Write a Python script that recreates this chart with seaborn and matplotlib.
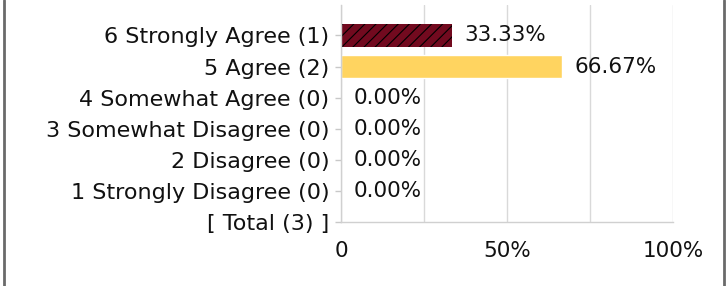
import matplotlib
matplotlib.use('Agg')
import matplotlib.pyplot as plt
import seaborn as sns
from matplotlib.lines import Line2D
from matplotlib.ticker import MultipleLocator

categories = ['6 Strongly Agree (1)', '5 Agree (2)', '4 Somewhat Agree (0)',
              '3 Somewhat Disagree (0)', '2 Disagree (0)', '1 Strongly Disagree (0)',
              '[ Total (3) ]']
answers = categories[:6]
percents = [33.33, 66.67, 0.0, 0.0, 0.0, 0.0]
value_labels = ['33.33%', '66.67%', '0.00%', '0.00%', '0.00%', '0.00%']
bar_colors = ['#720a1f', '#ffd460', '#ffd460', '#ffd460', '#ffd460', '#ffd460']
x_ticks = [0, 50, 100]
x_ticklabels = ['0', '50%', '100%']

sns.set_style('white')
plt.rcParams['font.family'] = ['DejaVu Sans']
plt.rcParams['hatch.linewidth'] = 0.8

fig = plt.figure(figsize=(7.26, 2.86), dpi=100)
ax = fig.add_axes([341 / 726, 1 - 222 / 286, 332 / 726, 217 / 286])

sns.barplot(x=percents, y=answers, order=categories, hue=answers,
            palette=bar_colors, saturation=1, legend=False, width=0.75, ax=ax)

# hatched first bar
first = ax.patches[0]
first.set_hatch('///')
first.set_edgecolor('#000000')
first.set_linewidth(0)

for cont, lab in zip(ax.containers, value_labels):
    ax.bar_label(cont, labels=[lab], padding=9, fontsize=15.5, color='#111111')

ax.set_xlim(0, 100)
ax.set_ylim(6, -0.98)
ax.set_xticks(x_ticks)
ax.set_xticklabels(x_ticklabels)
ax.xaxis.set_minor_locator(MultipleLocator(25))
ax.grid(axis='x', which='both', color='#d9d9d9', linewidth=1)
ax.set_axisbelow(True)

ax.set_xlabel('')
ax.set_ylabel('')
for side in ['top', 'right']:
    ax.spines[side].set_visible(False)
for side in ['left', 'bottom']:
    ax.spines[side].set_color('#d0d0d0')
    ax.spines[side].set_linewidth(1)

ax.tick_params(axis='y', length=4.5, width=1, color='#c8c8c8', pad=4,
               labelsize=16, labelcolor='#111111', left=True)
ax.tick_params(axis='x', which='both', length=0, pad=14,
               labelsize=15.5, labelcolor='#111111')

# outer frame lines at left and right
fig.add_artist(Line2D([4 / 726, 4 / 726], [0, 1], transform=fig.transFigure,
                      color='#6a6a6a', linewidth=2))
fig.add_artist(Line2D([723.5 / 726, 723.5 / 726], [0, 1], transform=fig.transFigure,
                      color='#6a6a6a', linewidth=2))

fig.savefig('out.png', dpi=100)
